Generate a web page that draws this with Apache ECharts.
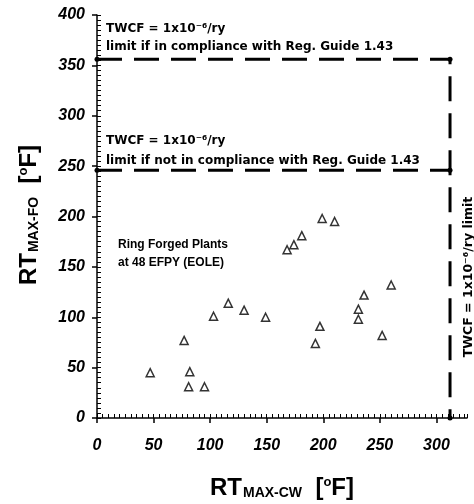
<!DOCTYPE html>
<html>
<head>
<meta charset="utf-8">
<script src="https://cdn.jsdelivr.net/npm/echarts@6/dist/echarts.min.js"></script>
<style>
  html, body { margin: 0; padding: 0; background: #fff; }
  #chart { width: 474px; height: 504px; }
</style>
</head>
<body>
<div id="chart"></div>
<script>
// ring forged plants, 48 EFPY (EOLE)
var rtCw = [47, 77, 82, 81, 95, 103, 116, 130, 149, 168, 174, 181, 199, 210, 197, 193, 231, 231, 236, 260, 252];
var rtFo = [45, 77, 46, 31, 31, 101, 114, 107, 100, 167, 172, 181, 198, 195, 91, 74, 108, 98, 122, 132, 82];

// TWCF = 1e-6 /ry limits
var limitCw = 312;
var limitFoRg = 356;     // in compliance with Reg. Guide 1.43
var limitFoNoRg = 246;   // not in compliance

var xTicks = [0, 50, 100, 150, 200, 250, 300];
var yTicks = [0, 50, 100, 150, 200, 250, 300, 350, 400];

var points = rtCw.map(function (x, i) { return [x, rtFo[i]]; });

var myChart = echarts.init(document.getElementById('chart'));

var labelFont = { fontFamily: 'Liberation Sans', fontWeight: 'bold', fontStyle: 'italic', fontSize: 16, color: '#000' };
var noteStyle = { fontFamily: 'DejaVu Sans', fontWeight: 'bold', fontSize: 12, fill: '#000' };

function note(x, y, text, family, size) {
    return {
        type: 'text', x: x, y: y,
        style: Object.assign({}, noteStyle, { text: text, fontFamily: family || 'DejaVu Sans', fontSize: size || 12, textVerticalAlign: 'middle' })
    };
}

var titleRich = {
    rt: { fontFamily: 'Liberation Sans', fontWeight: 'bold', fontSize: 24, fill: '#000', verticalAlign: 'bottom' },
    sub: { fontFamily: 'Liberation Sans', fontWeight: 'bold', fontSize: 14, fill: '#000', verticalAlign: 'bottom', padding: [0, 0, 0, 1] },
    sup: { fontFamily: 'Liberation Sans', fontWeight: 'bold', fontSize: 13, fill: '#000', verticalAlign: 'top' }
};

var option = {
    animation: false,
    grid: { left: 97, right: 7, top: 15, bottom: 86 },
    xAxis: [{
        type: 'value', min: 0, max: 327, interval: 50,
        axisLine: { lineStyle: { color: '#000', width: 1.5 } },
        axisTick: { inside: false, length: 5, lineStyle: { color: '#000', width: 1.5 } },
        axisLabel: Object.assign({ margin: 20, showMaxLabel: false, formatter: function (v) { return xTicks.indexOf(v) >= 0 ? v : ''; } }, labelFont),
        splitLine: { show: false }
    }, {
        type: 'value', min: 0, max: 327, interval: 5, position: 'bottom',
        axisLine: { show: false },
        axisTick: { inside: true, length: 4, lineStyle: { color: '#000', width: 1 } },
        axisLabel: { show: false },
        splitLine: { show: false }
    }],
    yAxis: [{
        type: 'value', min: 0, max: 400, interval: 50,
        axisLine: { show: true, lineStyle: { color: '#000', width: 1.5 } },
        axisTick: { show: true, inside: false, length: 5, lineStyle: { color: '#000', width: 1.5 } },
        axisLabel: Object.assign({ margin: 12, formatter: function (v) { return yTicks.indexOf(v) >= 0 ? v : ''; } }, labelFont),
        splitLine: { show: false }
    }, {
        type: 'value', min: 0, max: 400, interval: 5, position: 'left',
        axisLine: { show: false },
        axisTick: { show: true, inside: true, length: 4, lineStyle: { color: '#000', width: 1 } },
        axisLabel: { show: false },
        splitLine: { show: false }
    }],
    series: [{
        type: 'line',
        data: [[0, limitFoRg], [limitCw, limitFoRg], [limitCw, 0]],
        symbol: 'circle', symbolSize: 5,
        itemStyle: { color: '#000' },
        lineStyle: { color: '#000', width: 3, type: [25, 12] },
        z: 3
    }, {
        type: 'line',
        data: [[0, limitFoNoRg], [limitCw, limitFoNoRg]],
        symbol: 'circle', symbolSize: 5,
        itemStyle: { color: '#000' },
        lineStyle: { color: '#000', width: 3, type: [25, 12] },
        z: 3
    }, {
        type: 'scatter',
        data: points,
        symbol: 'triangle', symbolSize: 8,
        itemStyle: { color: '#fff', borderColor: '#000', borderWidth: 1.5 },
        z: 4
    }],
    graphic: [
        note(106, 29, 'TWCF = 1x10⁻⁶/ry'),
        note(106, 47, 'limit if in compliance with Reg. Guide 1.43'),
        note(106, 141, 'TWCF = 1x10⁻⁶/ry'),
        note(106, 161, 'limit if not in compliance with Reg. Guide 1.43'),
        note(118, 245, 'Ring Forged Plants', 'Liberation Sans', 12),
        note(118, 263, 'at 48 EFPY (EOLE)', 'Liberation Sans', 12),
        {
            type: 'text', x: 469, y: 277, rotation: Math.PI / 2,
            style: Object.assign({}, noteStyle, { text: 'TWCF = 1x10⁻⁶/ry limit', fontSize: 12.5, textAlign: 'center', textVerticalAlign: 'middle' })
        },
        {
            type: 'text', x: 282, y: 488,
            style: { text: '{rt|RT}{sub|MAX-CW}{rt|  [}{sup|o}{rt|F]}', rich: titleRich, textAlign: 'center', textVerticalAlign: 'middle' }
        },
        {
            type: 'text', x: 29, y: 215, rotation: Math.PI / 2,
            style: { text: '{rt|RT}{sub|MAX-FO}{rt|  [}{sup|o}{rt|F]}', rich: titleRich, textAlign: 'center', textVerticalAlign: 'middle' }
        }
    ]
};

myChart.setOption(option);
</script>
</body>
</html>
